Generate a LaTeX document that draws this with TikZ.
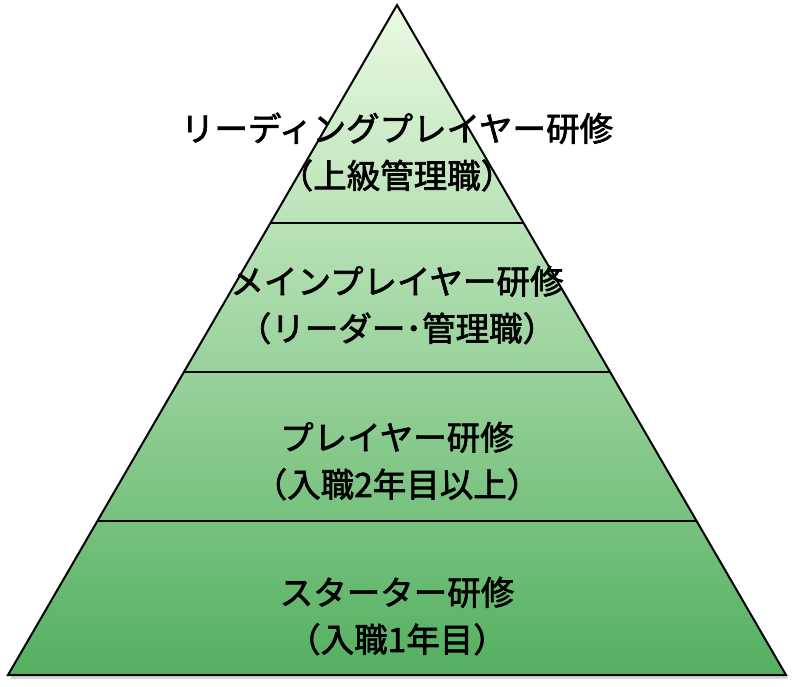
\documentclass[tikz,border=0pt]{standalone}
\usepackage{fontspec}
\usepackage{xcolor}
\newfontfamily\jpfont{Noto Sans CJK JP}[FakeBold=2]
\usetikzlibrary{positioning,calc}

\definecolor{pyrtop}{RGB}{234,250,226}
\definecolor{pyrbottom}{RGB}{84,176,96}

\begin{document}
\begin{tikzpicture}[x=1pt, y=-1pt, level/.style = {font=\jpfont\fontsize{33.5}{47}\selectfont, align=center, inner sep=0pt, text=black}, sep/.style = {line width=2pt, black}]

\useasboundingbox (0,0) rectangle (794,687);
\coordinate (apex) at (397,5);
\coordinate (baseL) at (8,675);
\coordinate (baseR) at (786,675);

% shadow and body
\fill[black!30, opacity=0.5] ($(apex)+(2,4)$) -- ($(baseR)+(2,4)$) -- ($(baseL)+(2,4)$) -- cycle;
\filldraw[top color=pyrtop, bottom color=pyrbottom, line width=2pt, line join=miter] (apex) -- (baseR) -- (baseL) -- cycle;

% level borders
\foreach \yy/\nm in {223/one, 372/two, 521/three} {
  \coordinate (\nm L) at ($(apex)!{(\yy-5)/670}!(baseL)$);
  \coordinate (\nm R) at ($(apex)!{(\yy-5)/670}!(baseR)$);
  \draw[sep] (\nm L) -- (\nm R);
}

\node[level] (lv1) at (397,152) {リーディングプレイヤー研修\\（上級管理職）};
\node[level] (lv2) at (397,305) {メインプレイヤー研修\\（リーダー･管理職）};
\node[level] (lv3) at (397,461) {プレイヤー研修\\（入職2年目以上）};
\node[level] (lv4) at (397,616) {スターター研修\\（入職1年目）};
\end{tikzpicture}
\end{document}
